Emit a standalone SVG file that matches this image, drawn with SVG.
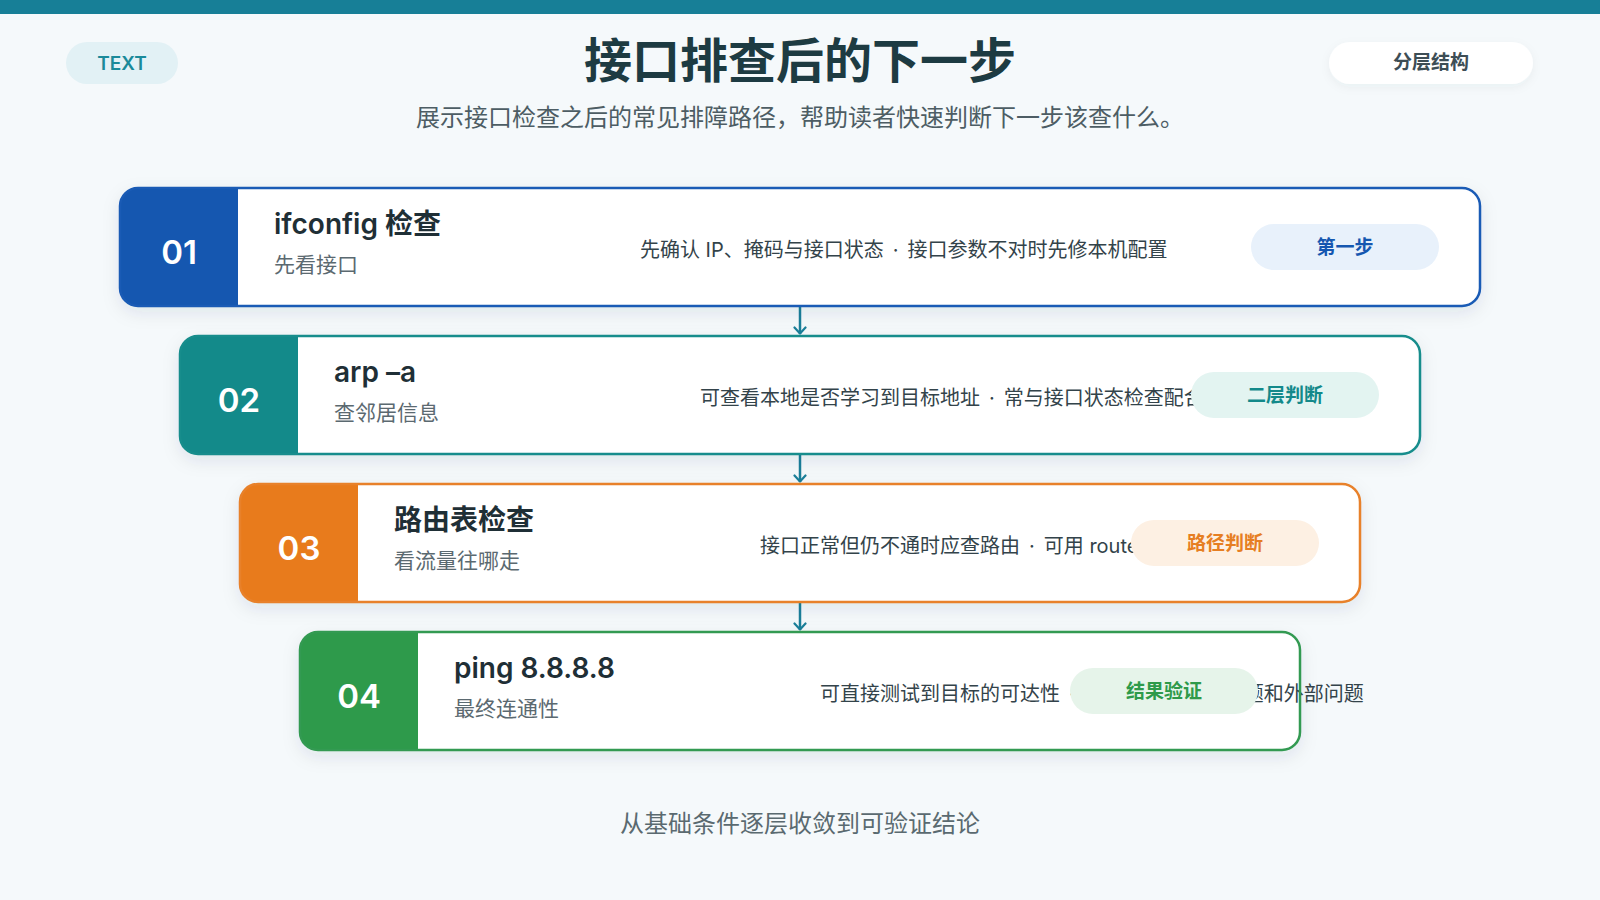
<svg xmlns="http://www.w3.org/2000/svg" width="1600" height="900" viewBox="0 0 1600 900">
  <defs>
    <filter id="shadow" x="-5%" y="-20%" width="110%" height="150%">
      <feDropShadow dx="0" dy="6" stdDeviation="9" flood-color="#1e3a4a" flood-opacity="0.10"/>
    </filter>
    <filter id="pillShadow" x="-10%" y="-30%" width="120%" height="170%">
      <feDropShadow dx="0" dy="3" stdDeviation="5" flood-color="#1e3a4a" flood-opacity="0.05"/>
    </filter>
    <marker id="arrow" viewBox="0 0 10 14" refX="8.5" refY="7" markerWidth="10" markerHeight="14" markerUnits="userSpaceOnUse" orient="auto">
      <path d="M2,1.5 L8,7 L2,12.5" fill="none" stroke="#1a7f99" stroke-width="2.2" stroke-linecap="round" stroke-linejoin="round"/>
    </marker>
  </defs>
  <style>
    .latin { font-family: Inter, "Noto Sans CJK SC", "Noto Sans", sans-serif; }
    .cjk { font-family: "Noto Sans CJK SC", "Noto Sans", sans-serif; }
    .num { font-family: Inter, "Noto Sans", sans-serif; font-size: 33px; font-weight: 600; fill: #ffffff; text-anchor: middle; }
    .title { font-size: 28px; font-weight: 600; fill: #1f2f36; }
    .sub { font-size: 21px; fill: #5b6970; }
    .desc { font-size: 20px; fill: #33434a; }
    .badge-t { font-size: 19px; font-weight: 700; text-anchor: middle; }
    .conn { stroke: #1a7f99; stroke-width: 2.5; fill: none; }
  </style>

  <rect x="0" y="0" width="1600" height="900" fill="#f5f9fb"/>
  <rect x="0" y="0" width="1600" height="14" fill="#177f97"/>

  <g id="header">
    <rect x="66" y="42" width="112" height="42" rx="21" fill="#e2f1f5"/>
    <text x="122" y="70" class="latin" font-size="19" font-weight="600" fill="#1a8a9a" text-anchor="middle">TEXT</text>
    <text x="800" y="78" class="cjk" font-size="48" font-weight="700" fill="#1d3b42" text-anchor="middle">接口排查后的下一步</text>
    <text x="800" y="126" class="cjk" font-size="24" fill="#4d5d64" text-anchor="middle">展示接口检查之后的常见排障路径，帮助读者快速判断下一步该查什么。</text>
    <rect x="1329" y="42" width="204" height="42" rx="21" fill="#ffffff" filter="url(#pillShadow)"/>
    <text x="1431" y="69" class="cjk" font-size="19" font-weight="700" fill="#3d4d55" text-anchor="middle">分层结构</text>
  </g>

  <g id="connectors">
    <line x1="800" y1="307" x2="800" y2="334" class="conn" marker-end="url(#arrow)"/>
    <line x1="800" y1="455" x2="800" y2="482" class="conn" marker-end="url(#arrow)"/>
    <line x1="800" y1="603" x2="800" y2="630" class="conn" marker-end="url(#arrow)"/>
  </g>

  <g id="node-01">
    <rect x="120" y="188" width="1360" height="118" rx="18" fill="#ffffff" filter="url(#shadow)"/>
    <path d="M138,188 H238 V306 H138 A18,18 0 0 1 120,288 V206 A18,18 0 0 1 138,188 Z" fill="#1557b0"/>
    <text x="179" y="264" class="num">01</text>
    <text x="274" y="234" class="latin title">ifconfig 检查</text>
    <text x="274" y="272" class="cjk sub">先看接口</text>
    <text x="640" y="257" class="latin desc">先确认 IP、掩码与接口状态<tspan dx="9">·</tspan><tspan dx="9">接口参数不对时先修本机配置</tspan></text>
    <rect x="1251" y="224" width="188" height="46" rx="23" fill="#e8f1fb"/>
    <text x="1345" y="254" class="cjk badge-t" fill="#1557b0">第一步</text>
    <rect x="120" y="188" width="1360" height="118" rx="18" fill="none" stroke="#1a5bb5" stroke-width="2.5"/>
  </g>

  <g id="node-02">
    <rect x="180" y="336" width="1240" height="118" rx="18" fill="#ffffff" filter="url(#shadow)"/>
    <path d="M198,336 H298 V454 H198 A18,18 0 0 1 180,436 V354 A18,18 0 0 1 198,336 Z" fill="#138a8a"/>
    <text x="239" y="412" class="num">02</text>
    <text x="334" y="382" class="latin title">arp –a</text>
    <text x="334" y="420" class="cjk sub">查邻居信息</text>
    <text x="700" y="405" class="latin desc">可查看本地是否学习到目标地址<tspan dx="9">·</tspan><tspan dx="9">常与接口状态检查配合</tspan></text>
    <rect x="1191" y="372" width="188" height="46" rx="23" fill="#e3f4f1"/>
    <text x="1285" y="402" class="cjk badge-t" fill="#13898a">二层判断</text>
    <rect x="180" y="336" width="1240" height="118" rx="18" fill="none" stroke="#178d8c" stroke-width="2.5"/>
  </g>

  <g id="node-03">
    <rect x="240" y="484" width="1120" height="118" rx="18" fill="#ffffff" filter="url(#shadow)"/>
    <path d="M258,484 H358 V602 H258 A18,18 0 0 1 240,584 V502 A18,18 0 0 1 258,484 Z" fill="#e87b1c"/>
    <text x="299" y="560" class="num">03</text>
    <text x="394" y="530" class="cjk title">路由表检查</text>
    <text x="394" y="568" class="cjk sub">看流量往哪走</text>
    <text x="760" y="553" class="latin desc">接口正常但仍不通时应查路由<tspan dx="9">·</tspan><tspan dx="9">可用 route</tspan></text>
    <rect x="1131" y="520" width="188" height="46" rx="23" fill="#fdf0e3"/>
    <text x="1225" y="550" class="cjk badge-t" fill="#e67e22">路径判断</text>
    <rect x="240" y="484" width="1120" height="118" rx="18" fill="none" stroke="#e8812a" stroke-width="2.5"/>
  </g>

  <g id="node-04">
    <rect x="300" y="632" width="1000" height="118" rx="18" fill="#ffffff" filter="url(#shadow)"/>
    <path d="M318,632 H418 V750 H318 A18,18 0 0 1 300,732 V650 A18,18 0 0 1 318,632 Z" fill="#2e9a4b"/>
    <text x="359" y="708" class="num">04</text>
    <text x="454" y="678" class="latin title">ping 8.8.8.8</text>
    <text x="454" y="716" class="cjk sub">最终连通性</text>
    <text x="820" y="701" class="latin desc">可直接测试到目标的可达性<tspan dx="9">·</tspan><tspan dx="9">可区分本机网络问题和外部问题</tspan></text>
    <rect x="1070" y="668" width="188" height="46" rx="23" fill="#e6f4ea"/>
    <text x="1164" y="698" class="cjk badge-t" fill="#2e9a4a">结果验证</text>
    <rect x="300" y="632" width="1000" height="118" rx="18" fill="none" stroke="#339a52" stroke-width="2.5"/>
  </g>

  <g id="footer">
    <text x="800" y="832" class="cjk" font-size="24" fill="#5a6a70" text-anchor="middle">从基础条件逐层收敛到可验证结论</text>
  </g>
</svg>
